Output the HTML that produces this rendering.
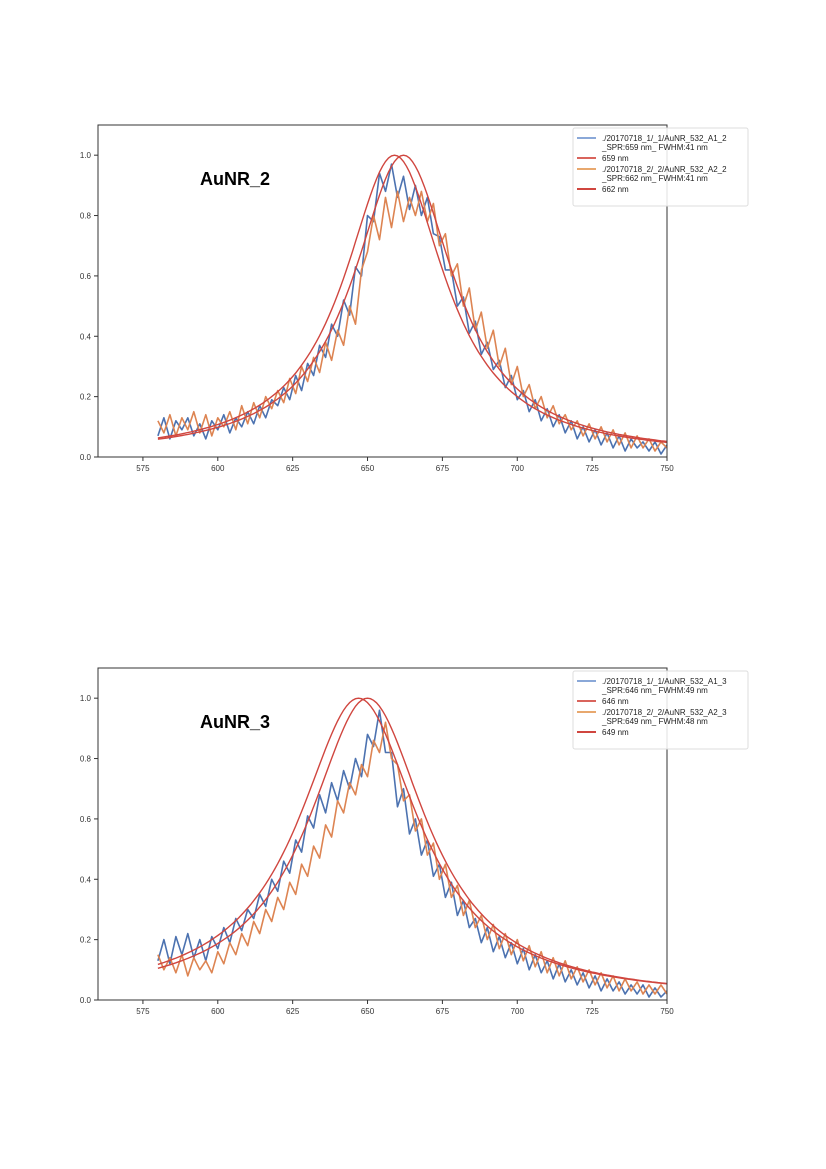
<!DOCTYPE html>
<html><head><meta charset="utf-8"><style>
body{margin:0;background:#fff;width:826px;height:1169px;overflow:hidden}
svg{position:absolute;left:0;top:0}
text{font-family:"Liberation Sans",sans-serif}
</style></head><body>
<svg id="s" width="826" height="1169" xmlns="http://www.w3.org/2000/svg"></svg>
<script>
const wl=[];for(let x=580;x<=750;x+=2)wl.push(x);
const xTicks=[575,600,625,650,675,700,725,750];
const yTicks=[0,0.2,0.4,0.6,0.8,1.0];
const blue1=[.07,.13,.06,.12,.09,.13,.07,.11,.06,.12,.09,.14,.08,.13,.10,.15,.11,.17,.13,.19,.17,.23,.19,.27,.22,.31,.27,.37,.33,.44,.40,.52,.47,.63,.60,.80,.78,.94,.88,.97,.86,.93,.82,.90,.80,.86,.74,.73,.62,.62,.50,.53,.41,.45,.34,.38,.29,.32,.23,.27,.19,.22,.15,.19,.12,.16,.10,.14,.08,.12,.06,.10,.05,.09,.04,.08,.03,.07,.02,.06,.03,.05,.02,.05,.01,.04];
const orange1=[.12,.08,.14,.07,.13,.09,.15,.08,.14,.07,.13,.10,.15,.09,.17,.11,.18,.13,.20,.16,.22,.18,.26,.21,.30,.25,.33,.28,.38,.32,.42,.37,.50,.44,.62,.68,.80,.72,.86,.76,.88,.78,.86,.80,.88,.78,.84,.70,.74,.60,.64,.50,.56,.42,.48,.36,.42,.30,.36,.24,.30,.20,.24,.16,.20,.13,.17,.11,.14,.09,.12,.07,.11,.06,.10,.05,.09,.04,.08,.03,.07,.03,.06,.02,.05,.03];
const blue2=[.13,.20,.12,.21,.15,.22,.14,.20,.13,.21,.17,.24,.19,.27,.23,.30,.27,.35,.31,.40,.36,.46,.42,.53,.49,.61,.57,.68,.62,.72,.66,.76,.70,.80,.74,.88,.84,.96,.82,.82,.64,.70,.55,.60,.48,.53,.41,.45,.34,.39,.28,.33,.24,.27,.19,.24,.16,.21,.14,.19,.12,.17,.10,.15,.09,.13,.07,.12,.06,.10,.05,.09,.04,.08,.03,.07,.03,.06,.02,.05,.02,.05,.01,.04,.01,.03];
const orange2=[.15,.10,.14,.09,.15,.08,.14,.10,.13,.09,.16,.12,.19,.15,.22,.18,.26,.22,.30,.26,.34,.30,.39,.35,.45,.41,.51,.47,.58,.54,.66,.62,.72,.68,.78,.74,.86,.82,.92,.80,.78,.66,.68,.56,.60,.48,.52,.40,.45,.34,.38,.28,.33,.24,.28,.20,.25,.17,.22,.15,.20,.13,.18,.11,.16,.09,.14,.08,.13,.07,.11,.06,.10,.05,.09,.04,.08,.03,.07,.03,.06,.02,.05,.02,.05,.02];
const fitCenters1=[659,662],fitFwhm1=[41,41];
const fitCenters2=[647,650],fitFwhm2=[49,48];
const legend1=["./20170718_1/_1/AuNR_532_A1_2|_SPR:659 nm_ FWHM:41 nm","659 nm","./20170718_2/_2/AuNR_532_A2_2|_SPR:662 nm_ FWHM:41 nm","662 nm"];
const legend2=["./20170718_1/_1/AuNR_532_A1_3|_SPR:646 nm_ FWHM:49 nm","646 nm","./20170718_2/_2/AuNR_532_A2_3|_SPR:649 nm_ FWHM:48 nm","649 nm"];
const S=document.getElementById('s'),NS="http://www.w3.org/2000/svg";
function mk(t,a,p){const e=document.createElementNS(NS,t);for(const k in a)e.setAttribute(k,a[k]);(p||S).appendChild(e);return e;}
function chart(top,name,b,o,fc,fw,leg,tag){
 const L=98,R=667,T=top,B=top+332;
 const X=v=>L+(v-560)*(R-L)/190, Y=v=>B-v*(B-T)/1.1;
 const g=mk('g',{});
 const pts=(arr)=>arr.map((v,i)=>X(wl[i]).toFixed(1)+','+Y(v).toFixed(1)).join(' ');
 const lb=mk('polyline',{points:pts(b),fill:'none',stroke:'#4c72b0','stroke-width':1.6,'stroke-linejoin':'round'},g);
 const lo=mk('polyline',{points:pts(o),fill:'none',stroke:'#dd8452','stroke-width':1.6,'stroke-linejoin':'round'},g);
 fc.forEach((c,k)=>{const h=fw[k]/2,p=[];for(let x=580;x<=750;x+=1)p.push(X(x).toFixed(1)+','+Y(1/(1+((x-c)/h)**2)).toFixed(1));
  const f=mk('polyline',{points:p.join(' '),fill:'none',stroke:'#d0463f','stroke-width':1.4},g);});
 const ax=mk('rect',{x:L,y:T,width:R-L,height:B-T,fill:'none',stroke:'#333','stroke-width':1},g);
 xTicks.forEach(t=>{mk('line',{x1:X(t),x2:X(t),y1:B,y2:B+4,stroke:'#333'},g);const tx=mk('text',{x:X(t),y:B+14,'font-size':8,'text-anchor':'middle',fill:'#333'},g);tx.textContent=t;});
 yTicks.forEach(t=>{mk('line',{x1:L-4,x2:L,y1:Y(t),y2:Y(t),stroke:'#333'},g);const tx=mk('text',{x:L-7,y:Y(t)+3,'font-size':8,'text-anchor':'end',fill:'#333'},g);tx.textContent=t.toFixed(1);});
 const ti=mk('text',{x:200,y:T+60,'font-size':18,'font-weight':'bold',fill:'#000'},g);ti.textContent=name;
 const lg=mk('g',{},g);
 mk('rect',{x:573,y:T+3,width:175,height:78,fill:'rgba(255,255,255,0.85)',stroke:'#ddd',rx:2},lg);
 const cols=['#8aa8d8','#d9645c','#e8a86e','#d0463f'];let yy=T+12;
 leg.forEach((s,k)=>{const parts=s.split('|');mk('line',{x1:577,x2:596,y1:yy+1,y2:yy+1,stroke:cols[k],'stroke-width':2},lg);
  parts.forEach((p,j)=>{const t=mk('text',{x:602,y:yy+4+j*9,'font-size':8,fill:'#222'},lg);t.textContent=p;});yy+=parts.length*9+2;});
}
chart(125,'AuNR_2',blue1,orange1,fitCenters1,fitFwhm1,legend1,'chart-aunr-2');
chart(668,'AuNR_3',blue2,orange2,fitCenters2,fitFwhm2,legend2,'chart-aunr-3');
</script>
</body></html>
